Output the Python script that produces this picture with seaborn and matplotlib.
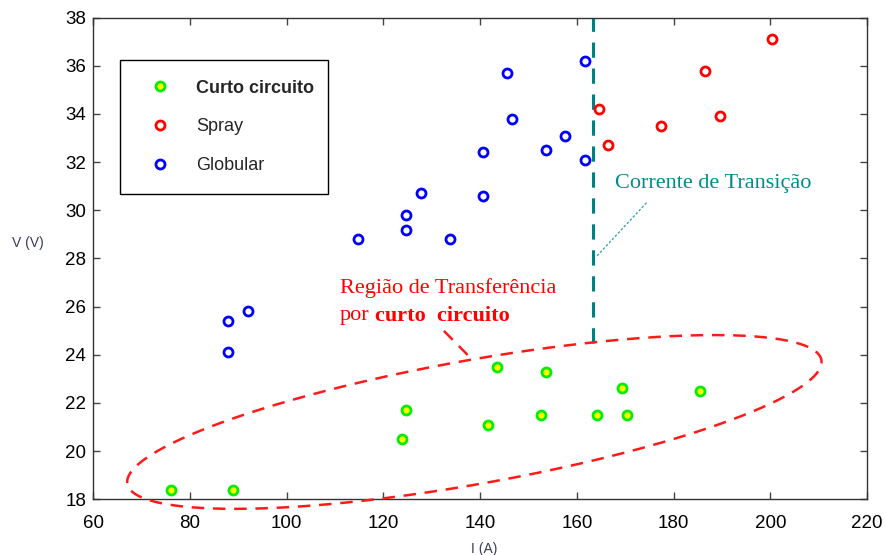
import numpy as np
import pandas as pd
import seaborn as sb
import matplotlib
matplotlib.use("Agg")
import matplotlib.pyplot as plt
from matplotlib.lines import Line2D

# curto circuito
curto_i = [76.0, 88.9, 123.8, 124.7, 141.6, 143.4, 152.6, 153.6, 164.2, 169.4, 170.4, 185.5]
curto_v = [18.4, 18.4, 20.5, 21.7, 21.1, 23.5, 21.5, 23.3, 21.5, 22.6, 21.5, 22.5]

# spray
spray_i = [164.6, 166.4, 177.4, 186.4, 189.5, 200.3]
spray_v = [34.2, 32.7, 33.5, 35.8, 33.9, 37.1]

# globular
glob_i = [87.9, 87.9, 91.9, 114.7, 124.7, 124.7, 127.8, 133.8, 140.5, 140.5,
          145.6, 146.6, 153.6, 157.6, 161.6, 161.6]
glob_v = [24.1, 25.4, 25.8, 28.8, 29.2, 29.8, 30.7, 28.8, 30.6, 32.4,
          35.7, 33.8, 32.5, 33.1, 36.2, 32.1]

transicao = 163.3  # corrente de transicao (A)

sb.set_theme(style="ticks", rc={"xtick.direction": "in", "ytick.direction": "in",
                               "xtick.top": True, "ytick.right": True})
plt.rcParams["font.family"] = ["Liberation Sans", "DejaVu Sans"]

fig = plt.figure(figsize=(8.87, 5.55), dpi=100)
ax = fig.add_axes([0.1052, 0.1004, 0.8723, 0.868])

df_c = pd.DataFrame({"I": curto_i, "V": curto_v})
df_s = pd.DataFrame({"I": spray_i, "V": spray_v})
df_g = pd.DataFrame({"I": glob_i, "V": glob_v})

ms = 42
sb.scatterplot(x="I", y="V", data=df_c, ax=ax, s=ms, color="#ffff00",
               edgecolor="#00ee00", linewidth=2.0, zorder=3)
sb.scatterplot(x="I", y="V", data=df_s, ax=ax, s=ms, color="white",
               edgecolor="#ff0000", linewidth=2.0, zorder=3)
sb.scatterplot(x="I", y="V", data=df_g, ax=ax, s=ms, color="white",
               edgecolor="#0000ff", linewidth=2.0, zorder=3)

# linha de transicao
ax.plot([transicao, transicao], [24.5, 38], color="#008080", lw=2.2,
        dashes=(5, 3.5), zorder=2)
ax.plot([174.4, 164.0], [30.31, 28.07], color="#2aa0a0", lw=0.9, ls=(0, (2, 1.5)))
ax.text(167.9, 31.12, "Corrente de Transição", color="#008b8b", fontsize=16,
        family="Liberation Serif", va="center", ha="left")

# elipse da regiao de curto circuito
t = np.linspace(0, 2 * np.pi, 400)
ex = 138.8 + 71.8 * np.cos(t)
ey = 21.21 + 2.49 * np.cos(t) + 2.61 * np.sin(t)
ax.plot(ex, ey, color="#ff1a1a", lw=1.8, dashes=(5, 3.5), clip_on=False, zorder=4)
ax.plot([132.5, 138.3], [24.99, 23.81], color="#ff1a1a", lw=1.8, dashes=(5, 3.5))
ax.text(111.0, 26.77, "Região de Transferência", color="red", fontsize=16,
        family="Liberation Serif", va="center", ha="left")
ax.text(111.0, 25.61, "por", color="red", fontsize=16,
        family="Liberation Serif", va="center", ha="left")
ax.text(118.3, 25.61, "curto  circuito", color="red", fontsize=16, fontweight="bold",
        family="Liberation Serif", va="center", ha="left")

ax.set_xlim(60, 220)
ax.set_ylim(18, 38)
ax.set_xticks(range(60, 221, 20))
ax.set_yticks(range(18, 39, 2))
ax.tick_params(labelsize=13.5, length=5, width=1, color="#444444", labelcolor="black")
ax.tick_params(axis="x", pad=11)
ax.tick_params(axis="y", pad=5)
for sp in ax.spines.values():
    sp.set_color("#333333")
    sp.set_linewidth(1.0)

ax.set_xlabel("I (A)", fontsize=10, color="#3a3a5a")
ax.xaxis.set_label_coords(0.505, -0.088)
ax.set_ylabel("V (V)", fontsize=10, color="#3a3a5a", rotation=0, ha="center", va="center")
ax.yaxis.set_label_coords(-0.084, 0.532)

handles = [
    Line2D([], [], ls="none", marker="o", ms=6.5, mfc="#ffff00", mec="#00ee00", mew=2.0),
    Line2D([], [], ls="none", marker="o", ms=6.5, mfc="white", mec="#ff0000", mew=2.0),
    Line2D([], [], ls="none", marker="o", ms=6.5, mfc="white", mec="#0000ff", mew=2.0),
]
leg = ax.legend(handles, ["Curto circuito", "Spray", "Globular"], loc="upper left",
                bbox_to_anchor=(0.0345, 0.642, 0.269, 0.27), mode="expand",
                borderaxespad=0, fontsize=13, handlelength=2.2, handletextpad=0.9,
                borderpad=1.1, labelspacing=1.2, fancybox=False, framealpha=1)
leg.get_frame().set_edgecolor("black")
leg.get_frame().set_linewidth(1.0)
leg.get_texts()[0].set_fontweight("bold")

plt.savefig("out.png", dpi=100)
